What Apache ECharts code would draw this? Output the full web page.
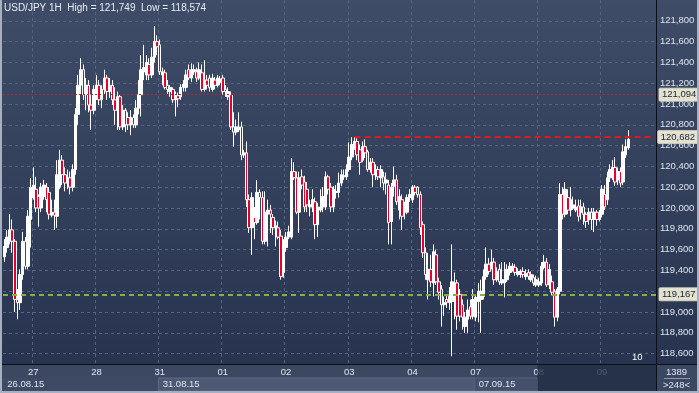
<!DOCTYPE html>
<html><head><meta charset="utf-8">
<script src="https://cdn.jsdelivr.net/npm/echarts@6/dist/echarts.min.js"></script>
<style>html,body{margin:0;padding:0;background:#2d3a55;}#c{width:699px;height:393px;}</style>
</head><body><div id="c"></div>
<script>
const titleText = 'USD/JPY 1H  High = 121,749  Low = 118,574';
const dayNames = ['26','27','28','31','01','02','03','04','07','08','09'];
const firstHour = 13;
const slotCount = 248;
const weekLabels = {'26|13':'26.08.15','31|00':'31.08.15','07|00':'07.09.15'};
const yTicks = [118.6,118.8,119.0,119.2,119.4,119.6,119.8,120.0,120.2,120.4,120.6,120.8,121.0,121.2,121.4,121.6,121.8];
const levelCurrent = 121.094;
const levelHigh = 120.682;
const levelHighStart = '03|02';
const levelLast = 120.60;
const levelGreen = 119.167;
const counterText = '1389';
const visibleText = '>248<';

const openP = [
119.53,119.62,119.68,119.79,119.68,119.12,119.09,119.36,119.68,119.44,
119.89,120.10,120.18,120.11,120.00,120.11,120.20,120.15,119.93,119.96,
119.92,120.20,120.46,120.32,120.24,120.29,120.20,120.37,120.90,121.18,
121.33,121.09,121.18,120.99,120.94,121.14,121.18,121.04,121.14,121.25,
121.12,121.18,121.04,120.94,121.07,120.78,120.94,120.87,120.80,120.87,
120.80,120.96,121.09,121.31,121.28,121.38,121.28,121.45,121.60,121.57,
121.28,121.30,121.18,121.12,121.14,121.04,121.08,121.07,121.16,121.16,
121.33,121.25,121.31,121.31,121.25,121.30,121.14,121.23,121.25,121.14,
121.23,121.18,121.21,121.25,121.14,121.07,121.09,120.78,120.73,120.75,
120.78,120.51,120.53,120.08,119.81,119.91,119.86,120.15,120.10,119.68,
119.94,119.98,119.91,119.81,119.81,119.73,119.38,119.62,119.72,119.72,
120.35,120.29,119.96,120.30,120.25,120.18,120.01,120.01,120.06,119.84,
119.98,120.01,120.01,120.30,120.20,120.01,120.15,120.15,120.24,120.30,
120.30,120.37,120.49,120.59,120.64,120.56,120.46,120.59,120.54,120.37,
120.44,120.32,120.37,120.29,120.30,120.24,120.22,119.87,120.21,120.27,
119.98,120.08,119.96,119.96,120.10,120.08,120.20,120.20,120.13,119.84,
119.57,119.31,119.41,119.28,119.55,119.29,119.22,119.07,119.12,119.09,
119.10,119.15,119.28,119.17,119.07,118.86,118.93,119.05,118.96,118.95,
119.10,119.12,119.15,119.34,119.46,119.43,119.48,119.31,119.41,119.28,
119.28,119.31,119.38,119.41,119.43,119.36,119.36,119.39,119.34,119.38,
119.31,119.33,119.26,119.26,119.28,119.43,119.48,119.26,119.29,119.20,
118.95,119.20,120.13,119.94,120.10,119.98,120.00,119.98,120.02,119.96,
120.01,119.94,119.89,119.96,119.89,119.96,119.89,119.94,120.13,120.08,
120.29,120.32,120.39,120.27,120.35,120.25,120.51,120.58];
const highP = [
119.70,119.79,119.94,119.89,119.70,119.22,119.41,119.77,119.72,119.98,
120.29,120.39,120.30,120.13,120.24,120.27,120.24,120.20,120.08,120.08,
120.46,120.56,120.51,120.39,120.37,120.35,120.42,120.96,121.28,121.44,
121.38,121.25,121.23,121.09,121.18,121.28,121.23,121.18,121.33,121.28,
121.25,121.23,121.16,121.12,121.09,120.99,120.96,120.92,120.94,120.90,
121.04,121.23,121.47,121.57,121.47,121.44,121.54,121.749,121.66,121.62,
121.35,121.33,121.23,121.18,121.16,121.12,121.11,121.19,121.23,121.33,
121.38,121.39,121.38,121.35,121.40,121.38,121.42,121.28,121.28,121.29,
121.26,121.28,121.27,121.28,121.18,121.16,121.12,120.92,120.85,120.92,
120.83,120.56,120.64,120.13,120.15,120.01,120.27,120.18,120.16,120.16,
120.08,120.03,119.94,119.88,119.87,119.79,119.70,119.77,119.83,120.48,
120.44,120.35,120.35,120.37,120.31,120.25,120.08,120.18,120.10,120.05,
120.18,120.20,120.35,120.32,120.24,120.21,120.22,120.34,120.37,120.37,
120.42,120.63,120.68,120.682,120.67,120.61,120.64,120.66,120.56,120.48,
120.48,120.42,120.40,120.41,120.35,120.34,120.27,120.24,120.40,120.32,
120.18,120.13,120.06,120.13,120.18,120.22,120.22,120.21,120.16,119.87,
119.62,119.57,119.55,119.65,119.60,119.33,119.26,119.15,119.17,119.24,
119.65,119.38,119.31,119.22,119.12,119.00,119.12,119.12,119.22,119.17,
119.28,119.31,119.41,119.62,119.52,119.60,119.52,119.43,119.46,119.48,
119.48,119.46,119.48,119.47,119.46,119.42,119.41,119.43,119.41,119.41,
119.39,119.36,119.35,119.33,119.48,119.55,119.52,119.46,119.35,119.22,
119.24,120.24,120.20,120.25,120.18,120.20,120.11,120.08,120.08,120.08,
120.05,119.96,120.00,120.00,120.00,119.98,119.98,120.22,120.22,120.35,
120.42,120.46,120.49,120.39,120.39,120.61,120.66,120.75];
const lowP = [
119.48,119.57,119.65,119.57,119.00,118.93,119.02,119.31,119.41,119.41,
119.62,120.08,119.96,119.82,119.96,120.08,119.96,119.89,119.91,119.79,
119.81,120.18,120.22,120.16,120.18,120.13,120.16,120.32,120.80,121.09,
121.04,120.94,120.92,120.75,120.90,121.04,120.99,120.96,121.09,121.04,
121.06,120.99,120.80,120.75,120.75,120.75,120.73,120.75,120.70,120.77,
120.77,120.90,120.88,121.23,121.23,121.23,121.25,121.40,121.47,121.28,
121.18,121.14,121.09,121.07,121.01,120.88,120.97,121.04,121.12,121.12,
121.23,121.21,121.28,121.21,121.23,121.12,121.12,121.14,121.12,121.12,
121.14,121.16,121.18,121.09,121.07,121.04,120.75,120.59,120.70,120.73,
120.46,120.48,120.01,119.76,119.55,119.70,119.84,119.89,119.65,119.65,
119.63,119.76,119.74,119.63,119.70,119.31,119.33,119.58,119.70,119.70,
120.27,119.94,119.76,120.18,119.96,119.96,119.92,119.96,119.70,119.72,
119.96,119.96,119.98,120.13,119.96,119.96,120.09,120.10,120.21,120.27,
120.27,120.35,120.46,120.56,120.46,120.32,120.44,120.48,120.35,120.34,
120.20,120.27,120.27,120.20,120.17,120.13,119.65,119.65,120.11,120.03,
119.89,119.79,119.89,119.94,120.06,120.05,120.12,120.10,119.74,119.52,
119.31,119.12,119.24,119.15,119.26,119.12,118.86,118.96,119.04,119.02,
118.574,118.93,118.83,118.91,118.83,118.80,118.80,118.93,118.93,118.91,
118.90,118.80,119.12,119.31,119.36,119.41,119.26,119.29,119.26,119.26,
119.14,119.29,119.35,119.39,119.35,119.34,119.33,119.33,119.31,119.31,
119.29,119.25,119.24,119.24,119.25,119.41,119.24,119.22,119.16,118.86,
118.91,119.17,119.89,119.91,119.94,119.92,119.98,119.96,119.87,119.89,
119.84,119.81,119.84,119.79,119.77,119.83,119.87,119.91,119.98,120.03,
120.25,120.27,120.21,120.22,120.20,120.22,120.48,120.56];
const closeP = [
119.63,119.72,119.79,119.68,119.12,119.09,119.36,119.68,119.44,119.92,
120.20,120.22,120.00,120.00,120.20,120.22,120.08,119.94,119.96,119.93,
120.32,120.46,120.32,120.24,120.29,120.20,120.37,120.90,121.18,121.33,
121.09,121.18,120.99,120.94,121.14,121.18,121.04,121.14,121.25,121.12,
121.18,121.04,120.94,121.07,120.78,120.94,120.80,120.80,120.87,120.80,
120.96,121.09,121.33,121.35,121.40,121.28,121.45,121.60,121.55,121.31,
121.31,121.16,121.14,121.16,121.04,121.08,121.05,121.16,121.19,121.28,
121.25,121.33,121.33,121.25,121.33,121.14,121.23,121.18,121.16,121.25,
121.18,121.25,121.24,121.12,121.12,121.12,120.78,120.73,120.78,120.78,
120.51,120.53,120.08,119.81,120.10,119.86,120.15,120.10,119.68,119.96,
119.98,119.94,119.81,119.83,119.72,119.34,119.62,119.72,119.77,120.35,
120.29,119.96,120.29,120.22,120.01,120.03,120.03,120.08,119.84,120.01,
120.01,120.11,120.30,120.18,120.01,120.18,120.16,120.24,120.32,120.31,
120.37,120.49,120.61,120.64,120.51,120.44,120.59,120.53,120.37,120.44,
120.32,120.37,120.30,120.37,120.24,120.27,119.86,120.20,120.27,120.06,
120.11,119.92,120.01,120.10,120.13,120.20,120.15,120.13,119.81,119.57,
119.36,119.41,119.29,119.58,119.29,119.19,119.07,119.09,119.09,119.15,
119.29,119.28,118.96,118.96,118.95,118.95,119.02,118.96,119.12,119.14,
119.20,119.20,119.34,119.46,119.39,119.48,119.31,119.39,119.29,119.31,
119.31,119.41,119.44,119.44,119.38,119.39,119.39,119.36,119.37,119.34,
119.36,119.28,119.31,119.29,119.44,119.48,119.26,119.41,119.19,118.95,
119.22,120.13,119.94,120.18,119.98,120.08,120.03,120.01,119.92,120.01,
119.94,119.87,119.96,119.89,119.96,119.89,119.94,120.18,120.01,120.29,
120.37,120.39,120.25,120.35,120.24,120.54,120.59,120.66];

const cats = [];
for (let d = 0; d < dayNames.length && cats.length < slotCount; d++) {
  for (let h = (d === 0 ? firstHour : 0); h < 24 && cats.length < slotCount; h++) {
    cats.push(dayNames[d] + '|' + String(h).padStart(2, '0'));
  }
}
const candles = openP.map((o, i) => [o, closeP[i], lowP[i], highP[i]]);
const fmt = v => Number(v).toFixed(3).replace('.', ',');
const isDayStart = (i, v) => v.endsWith('|00');
const FONT = 'Liberation Sans';
const tag = v => ({show: true, position: 'end', distance: 3, formatter: fmt(v),
  backgroundColor: '#e3e1cf', color: '#1b2232', fontSize: 9.5, fontFamily: FONT,
  padding: [2, 3, 1, 3], borderRadius: 1, borderColor: '#b9b8a8', borderWidth: 0.5});

const chart = echarts.init(document.getElementById('c'), null, {renderer: 'canvas'});
chart.setOption({
  animation: false,
  backgroundColor: {type: 'linear', x: 0, y: 0, x2: 0, y2: 1, colorStops: [
    {offset: 0, color: '#3f4c68'}, {offset: 1, color: '#26324d'}]},
  title: {text: titleText, left: 4, top: 3, padding: 0, textStyle: {color: '#e6ecf5', fontSize: 10, fontWeight: 'normal', fontFamily: FONT}},
  grid: {left: 3, right: 43, top: 0, bottom: 29, containLabel: false},
  xAxis: [{
    type: 'category', data: cats, boundaryGap: true,
    axisLine: {show: true, lineStyle: {color: '#000'}}, axisTick: {show: false},
    axisLabel: {interval: isDayStart, formatter: v => v.split('|')[0], color: '#dfe5ef', fontSize: 9.5, fontFamily: FONT, margin: 3},
    splitLine: {show: true, interval: isDayStart, lineStyle: {color: '#56647f', type: [3, 3], width: 1}}
  }, {
    type: 'category', data: cats, boundaryGap: true, position: 'bottom', offset: 12,
    axisLine: {show: false}, axisTick: {show: false}, splitLine: {show: false},
    axisLabel: {interval: (i, v) => v in weekLabels, formatter: v => weekLabels[v] || '', align: 'left', padding: [0, 0, 0, 3],
      color: '#dfe5ef', fontSize: 9.5, fontFamily: FONT, margin: 3}
  }],
  yAxis: {
    type: 'value', position: 'right', min: 118.5, max: 122.0, scale: true,
    axisLine: {show: true, lineStyle: {color: '#000'}},
    axisTick: {show: false, customValues: yTicks},
    axisLabel: {customValues: yTicks, formatter: fmt, color: '#dfe5ef', fontSize: 9.5, fontFamily: FONT, margin: 4},
    splitLine: {show: true, lineStyle: {color: '#56647f', type: [3, 3], width: 1}}
  },
  series: [{
    type: 'candlestick', data: candles, barWidth: 3, z: 3,
    itemStyle: {color: '#ffffff', color0: '#e4002b', borderColor: '#ffffff', borderColor0: '#ffffff', borderWidth: 1},
    emphasis: {disabled: true},
    markLine: {
      silent: true, symbol: 'none', animation: false, z: 4,
      data: [
        {yAxis: levelLast, lineStyle: {opacity: 0}, label: tag(levelLast)},
        {yAxis: levelCurrent, lineStyle: {color: '#a82a30', width: 1, type: [2, 2]}, label: tag(levelCurrent)},
        [{coord: [levelHighStart, levelHigh], lineStyle: {color: '#e8141c', width: 2, type: [6, 4]}, label: tag(levelHigh)},
         {coord: [cats[cats.length - 1], levelHigh]}],
        {yAxis: levelGreen, lineStyle: {color: '#82b244', width: 2, type: [5, 4]}, label: tag(levelGreen)}
      ]
    }
  }]
});

const px = v => chart.convertToPixel({xAxisIndex: 0}, v);
const cell = px(cats[1]) - px(cats[0]);
const bx = v => px(v) - cell / 2;
const gRight = chart.getWidth() - 43;
const gBottom = chart.getHeight() - 29;
const W = chart.getWidth(), H = chart.getHeight();
const tf = {fontFamily: FONT, fontSize: 9.5, fill: '#dfe5ef'};
chart.setOption({graphic: [
  {type: 'rect', z: -1, shape: {x: 0, y: gBottom, width: W, height: H - gBottom}, style: {fill: '#3c4862'}},
  {type: 'rect', z: -1, shape: {x: 0, y: gBottom + 14, width: bx('31|00'), height: 13}, style: {fill: '#3e4a64'}},
  {type: 'rect', z: -1, shape: {x: bx('31|00'), y: gBottom + 14, width: bx('07|00') - bx('31|00'), height: 13}, style: {fill: '#4d5974', stroke: '#5e6a84', lineWidth: 1}},
  {type: 'rect', z: -1, shape: {x: bx('07|00'), y: gBottom + 14, width: bx('08|00') - bx('07|00'), height: 13}, style: {fill: '#44506b', stroke: '#55617b', lineWidth: 1}},
  {type: 'rect', z: 100, shape: {x: bx('08|00'), y: gBottom + 1, width: gRight - bx('08|00'), height: H - gBottom - 3}, style: {fill: 'rgba(32,42,68,0.78)'}},
  {type: 'line', z: 101, shape: {x1: 0, y1: gBottom + 0.5, x2: W, y2: gBottom + 0.5}, style: {stroke: '#0a0f1a', lineWidth: 1}},
  {type: 'line', z: 101, shape: {x1: gRight + 0.5, y1: 0, x2: gRight + 0.5, y2: H}, style: {stroke: '#0a0f1a', lineWidth: 1}},
  {type: 'rect', z: 102, shape: {x: 0, y: 0, width: 2, height: H}, style: {fill: '#a7b0c2'}},
  {type: 'rect', z: 102, shape: {x: W - 2, y: 0, width: 2, height: H}, style: {fill: '#a7b0c2'}},
  {type: 'rect', z: 102, shape: {x: 0, y: H - 2, width: W, height: 2}, style: {fill: '#a7b0c2'}},
  {type: 'text', z: 103, style: Object.assign({text: counterText, x: (gRight + W - 2) / 2, y: gBottom + 8, align: 'center', verticalAlign: 'middle'}, tf)},
  {type: 'line', z: 103, shape: {x1: gRight + 8, y1: gBottom + 14.5, x2: W - 9, y2: gBottom + 14.5}, style: {stroke: '#8e98ac', lineWidth: 1}},
  {type: 'text', z: 103, style: Object.assign({text: visibleText, x: (gRight + W - 2) / 2, y: gBottom + 21, align: 'center', verticalAlign: 'middle'}, tf)},
  {type: 'text', z: 103, style: {text: '10', x: gRight - 24, y: gBottom - 7, align: 'left', verticalAlign: 'middle', fontFamily: FONT, fontSize: 9.5, fill: '#ffffff'}}
]});
</script></body></html>
